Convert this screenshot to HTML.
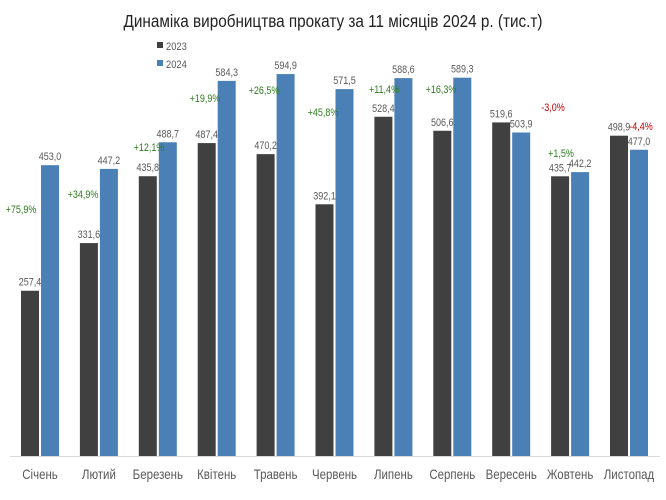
<!DOCTYPE html>
<html><head><meta charset="utf-8"><style>body{margin:0;background:#fff}svg{display:block;font-family:"Liberation Sans",sans-serif}</style></head><body>
<svg width="666" height="500" viewBox="0 0 666 500">
<text transform="translate(333,27) scale(0.85,1)" text-anchor="middle" font-size="18" fill="#222">Динаміка виробництва прокату за 11 місяців 2024 р. (тис.т)</text>
<rect x="157" y="42" width="6" height="6" fill="#404040"/><text transform="translate(166,50) scale(0.85,1)" font-size="11" fill="#595959">2023</text>
<rect x="157" y="60" width="6" height="6" fill="#4a80b5"/><text transform="translate(166,68) scale(0.85,1)" font-size="11" fill="#595959">2024</text>
<line x1="10" y1="456.5" x2="660" y2="456.5" stroke="#d9d9d9"/>
<g id="bars"></g>
</svg>
<script>
var d=[["Січень",257.4,453.0,"+75,9%",21,213],["Лютий",331.6,447.2,"+34,9%",83,198],["Березень",435.8,488.7,"+12,1%",149,151],["Квітень",487.4,584.3,"+19,9%",205,102],["Травень",470.2,594.9,"+26,5%",264,94],["Червень",392.1,571.5,"+45,8%",323,116],["Липень",528.4,588.6,"+11,4%",384,93],["Серпень",506.6,589.3,"+16,3%",441,93],["Вересень",519.6,503.9,"-3,0%",553,111],["Жовтень",435.7,442.2,"+1,5%",561,157],["Листопад",498.9,477.0,"-4,4%",641,130]];
var g=document.getElementById("bars"),s="",k=0.642,b=456;
function t(x,y,sz,c,str){return '<text transform="translate('+x+','+y+') scale(0.82,1)" text-anchor="middle" font-size="'+sz+'" fill="'+c+'">'+str+'</text>';}
d.forEach(function(r,i){var x=21+58.9*i;var h1=r[1]*k,h2=r[2]*k;
s+='<rect x="'+x+'" y="'+(b-h1)+'" width="18" height="'+h1+'" fill="#404040"/>';
s+='<rect x="'+(x+20)+'" y="'+(b-h2)+'" width="18" height="'+h2+'" fill="#4a80b5"/>';
var f=function(v){return v.toFixed(1).replace(".",",")};
s+=t(x+9,b-h1-5,11,"#595959",f(r[1]));
s+=t(x+29,b-h2-5,11,"#595959",f(r[2]));
s+=t(r[4],r[5],11,r[3][0]=="-"?"#c00000":"#2e7d1f",r[3]);
s+=t(x+19,479,14,"#595959",r[0]);
});
g.innerHTML=s;
</script>
</body></html>
